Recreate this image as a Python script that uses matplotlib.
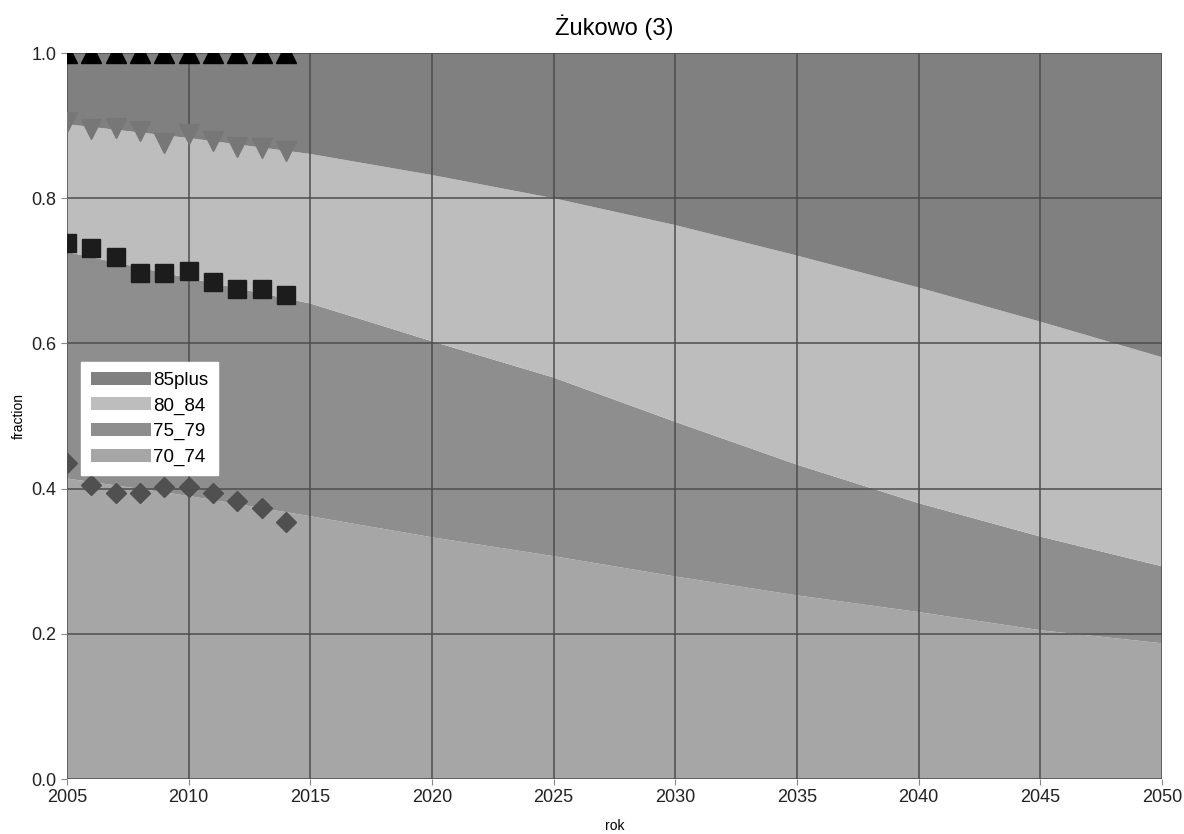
import numpy as np
import matplotlib
matplotlib.use('Agg')
from matplotlib import pyplot as plt

plt.rcParams['font.family'] = ['Liberation Sans', 'DejaVu Sans']

# projection years (smooth stacked areas)
years = [2005, 2010, 2015, 2020, 2025, 2030, 2035, 2040, 2045, 2050]
share_70_74 = [0.414, 0.390, 0.362, 0.333, 0.307, 0.279, 0.253, 0.230, 0.205, 0.187]
share_75_79 = [0.312, 0.300, 0.293, 0.270, 0.246, 0.213, 0.180, 0.150, 0.129, 0.106]
share_80_84 = [0.176, 0.193, 0.206, 0.229, 0.247, 0.271, 0.288, 0.297, 0.296, 0.288]
share_85plus = [0.098, 0.117, 0.139, 0.168, 0.200, 0.237, 0.279, 0.323, 0.370, 0.419]

# observed (cumulative) values shown as markers
obs_years = [2005, 2006, 2007, 2008, 2009, 2010, 2011, 2012, 2013, 2014]
obs_85plus = [1.0] * 10
obs_80_84 = [0.905, 0.895, 0.897, 0.893, 0.876, 0.888, 0.879, 0.870, 0.869, 0.865]
obs_75_79 = [0.738, 0.731, 0.719, 0.697, 0.697, 0.700, 0.685, 0.675, 0.675, 0.667]
obs_70_74 = [0.435, 0.405, 0.394, 0.394, 0.402, 0.402, 0.394, 0.383, 0.373, 0.354]

labels = ['70_74', '75_79', '80_84', '85plus']
colors = ['#a6a6a6', '#8e8e8e', '#bdbdbd', '#808080']

fig = plt.figure(figsize=(11.84, 8.34), dpi=100)
ax = fig.add_axes([0.0566, 0.0659, 0.9248, 0.8705])

polys = ax.stackplot(years, share_70_74, share_75_79, share_80_84, share_85plus,
                     colors=colors, labels=labels, zorder=1, linewidth=0)

ax.plot(obs_years, obs_85plus, linestyle='none', marker='^', markersize=15,
        color='black', zorder=4)
ax.plot(obs_years, obs_80_84, linestyle='none', marker='v', markersize=15,
        color='#777777', zorder=4)
ax.plot(obs_years, obs_75_79, linestyle='none', marker='s', markersize=13,
        color='#1c1c1c', zorder=4)
ax.plot(obs_years, obs_70_74, linestyle='none', marker='D', markersize=10,
        color='#505050', zorder=4)

ax.set_xlim(2005, 2050)
ax.set_ylim(0, 1)
ax.set_xticks(range(2005, 2051, 5))
ax.set_yticks([0.0, 0.2, 0.4, 0.6, 0.8, 1.0])
ax.set_yticklabels(['0.0', '0.2', '0.4', '0.6', '0.8', '1.0'])
ax.grid(True, color='#4d4d4d', linewidth=1.1, zorder=2)
ax.set_axisbelow(False)
for s in ax.spines.values():
    s.set_visible(False)
ax.tick_params(labelsize=13, color='#888888', length=4, labelcolor='#222222')

ax.set_title('Żukowo (3)', fontsize=17, pad=13)
ax.set_xlabel('rok', fontsize=10, labelpad=9)
ax.set_ylabel('fraction', fontsize=10, labelpad=4)

handles = polys[::-1]
leg = ax.legend(handles, labels[::-1], loc='upper left', bbox_to_anchor=(0.013, 0.574),
                fontsize=13.5, frameon=True, fancybox=False, edgecolor='white',
                framealpha=1, handlelength=3.2, handleheight=0.7,
                handletextpad=0.15, labelspacing=0.45, borderpad=0.5,
                borderaxespad=0)
leg.set_zorder(5)

fig.savefig('out.png', dpi=100)
